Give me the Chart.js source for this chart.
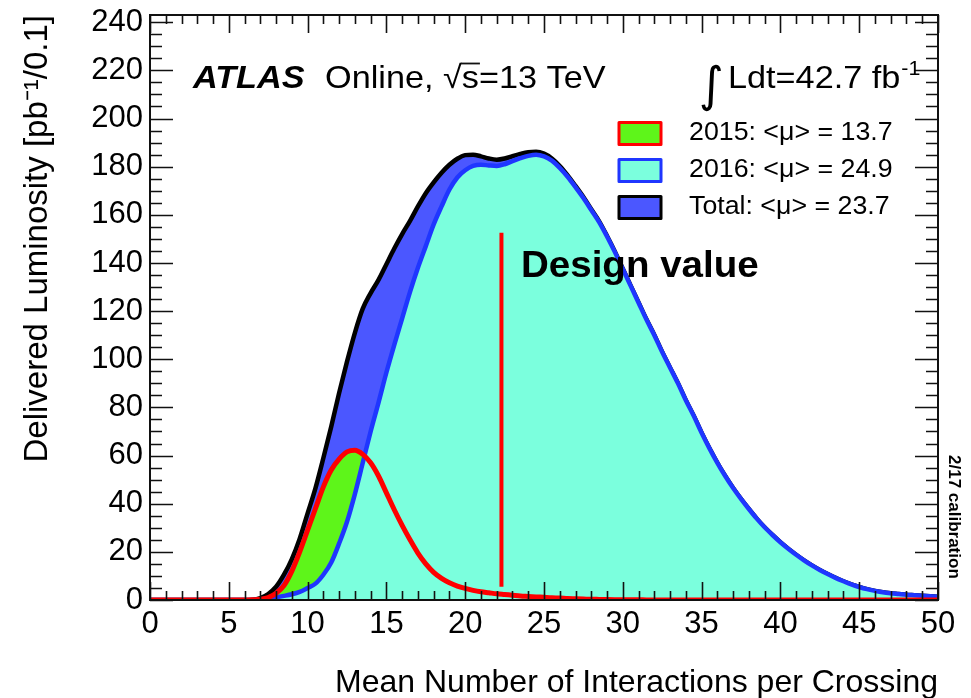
<!DOCTYPE html>
<html>
<head>
<meta charset="utf-8">
<title>Delivered Luminosity vs Mean Number of Interactions per Crossing</title>
<script src="https://cdn.jsdelivr.net/npm/chart.js@4.4.1/dist/chart.umd.min.js"></script>
<style>
  html, body { margin: 0; padding: 0; background: #ffffff; }
  #wrap { position: relative; width: 971px; height: 698px; }
</style>
</head>
<body>
<div id="wrap"><canvas id="lumi" width="971" height="698"></canvas></div>
<script>
// Mean number of interactions per crossing (x positions of the sampled distribution)
const mu = [0, 2, 4, 6, 6.5, 7, 7.5, 8, 8.5, 9, 9.5, 10, 10.5, 11, 11.5, 12, 12.5, 13, 13.5, 14,
  14.5, 15, 15.5, 16, 16.5, 17, 17.5, 18, 18.5, 19, 19.5, 20, 20.5, 21, 21.5, 22, 22.5, 23, 23.5, 24,
  24.5, 25, 25.5, 26, 26.5, 27, 27.5, 28, 28.5, 29, 29.5, 30, 30.5, 31, 31.5, 32, 32.5, 33, 33.5, 34,
  34.5, 35, 35.5, 36, 36.5, 37, 37.5, 38, 38.5, 39, 39.5, 40, 40.5, 41, 41.5, 42, 42.5, 43, 43.5, 44,
  44.5, 45, 45.5, 46, 46.5, 47, 47.5, 48, 48.5, 49, 49.5, 50];

// Delivered luminosity [pb^-1 / 0.1], 2015 data
const lumi2015 = [0, 0, 0, 0, 0.1, 0.3, 1, 2.8, 6, 12, 20, 29, 38, 47, 54, 58.5, 61.5, 62.2, 60.5, 57,
  51.5, 44.5, 37.5, 31, 25, 19.5, 15, 11.5, 9, 7.2, 5.8, 4.8, 4, 3.4, 3, 2.6, 2.3, 2, 1.7, 1.5,
  1.3, 1.1, 0.9, 0.8, 0.6, 0.5, 0.4, 0.3, 0.25, 0.2, 0.15, 0.1, 0.1, 0.1, 0.05, 0.05, 0, 0, 0, 0,
  0, 0, 0, 0, 0, 0, 0, 0, 0, 0, 0, 0, 0, 0, 0, 0, 0, 0, 0, 0,
  0, 0, 0, 0, 0, 0, 0, 0, 0, 0, 0, 0];

// Delivered luminosity [pb^-1 / 0.1], 2016 data
const lumi2016 = [0, 0, 0, 0, 0, 0.2, 0.6, 1.1, 1.7, 2.4, 3.4, 5, 6.8, 10.5, 15.6, 23.5, 32.5, 44, 57, 70,
  82, 94.5, 106, 117, 128, 138, 147, 156, 163.5, 170.5, 175.5, 178.5, 180.3, 180.8, 180.5, 180.3, 181, 182.3, 183.5, 184.5,
  185, 184.3, 182.5, 179.5, 175.8, 171.5, 167, 162, 157, 151, 144.5, 137.5, 130.5, 123.5, 116.5, 110, 103, 96.5, 90, 83,
  76.5, 69.5, 63, 57, 51.5, 46.5, 42, 37.8, 33.8, 30.2, 27, 24, 21.3, 18.8, 16.5, 14.4, 12.5, 10.8, 9.2, 7.8,
  6.5, 5.4, 4.5, 3.8, 3.2, 2.8, 2.5, 2.2, 2, 1.8, 1.6, 1.4];

// Delivered luminosity [pb^-1 / 0.1], 2015 + 2016
const lumiTotal = [0, 0, 0, 0, 0.1, 0.8, 2.5, 5.5, 10.5, 17, 25.5, 36, 46.5, 59, 72, 86, 99, 111, 121, 127.5,
  133, 139.5, 146, 152, 157.5, 163.5, 169, 173.5, 177.5, 180.8, 183.3, 184.8, 185, 184.3, 183.4, 182.9, 183.4, 184.4, 185.3, 186,
  186.2, 185.4, 183.4, 180.3, 176.4, 172, 167.4, 162.3, 157.3, 151.2, 144.7, 137.6, 130.6, 123.6, 116.6, 110.1, 103, 96.5, 90, 83,
  76.5, 69.5, 63, 57, 51.5, 46.5, 42, 37.8, 33.8, 30.2, 27, 24, 21.3, 18.8, 16.5, 14.4, 12.5, 10.8, 9.2, 7.8,
  6.5, 5.4, 4.5, 3.8, 3.2, 2.8, 2.5, 2.2, 2, 1.8, 1.6, 1.4];

// Design pile-up marker: position and vertical extent
const designMu = [22.3, 22.3];
const designLumi = [5.5, 152.5];

// Legend entries
const legendLabels = ['2015: <\u03bc> = 13.7', '2016: <\u03bc> = 24.9', 'Total: <\u03bc> = 23.7'];
const legendFills = ['#5ef51a', '#7bffdd', '#4b57ff'];
const legendEdges = ['#ff0000', '#1f36ff', '#000000'];

const FONT = '"Liberation Sans", Arial, Helvetica, sans-serif';
const TEXT_STRETCH = 1.07;

const toPoints = (xs, ys) => xs.map((x, i) => ({ x: x, y: ys[i] }));

// Draws text slightly widened; returns the drawn width
function wideText(ctx, str, x, y) {
  ctx.save();
  ctx.translate(x, y);
  ctx.scale(TEXT_STRETCH, 1);
  ctx.fillText(str, 0, 0);
  ctx.restore();
  return ctx.measureText(str).width * TEXT_STRETCH;
}

// Frame, inward ticks on all four sides and the text annotations
const atlasDecorations = {
  id: 'atlasDecorations',
  afterDatasetsDraw(chart) {
    const { ctx, chartArea: a, scales } = chart;
    const xs = scales.x, ys = scales.y;
    ctx.save();
    ctx.strokeStyle = '#111111';
    ctx.lineWidth = 1.6;
    ctx.beginPath();
    for (let v = 0; v <= 50; v += 1) {
      const px = Math.round(xs.getPixelForValue(v)) + 0.5;
      const len = v % 5 === 0 ? 18 : 9;
      ctx.moveTo(px, a.bottom); ctx.lineTo(px, a.bottom - len);
      ctx.moveTo(px, a.top); ctx.lineTo(px, a.top + len);
    }
    for (let v = 0; v <= 240; v += 5) {
      const py = Math.round(ys.getPixelForValue(v)) + 0.5;
      const len = v % 20 === 0 ? 23 : 12;
      ctx.moveTo(a.left, py); ctx.lineTo(a.left + len, py);
      ctx.moveTo(a.right, py); ctx.lineTo(a.right - len, py);
    }
    ctx.stroke();
    ctx.lineWidth = 2;
    ctx.strokeRect(a.left, a.top, a.right - a.left, a.bottom - a.top);

    ctx.fillStyle = '#000000';
    ctx.textBaseline = 'alphabetic';
    ctx.textAlign = 'left';

    // ATLAS  Online, sqrt(s)=13 TeV
    ctx.font = 'italic bold 32px ' + FONT;
    wideText(ctx, 'ATLAS', 193, 88);
    ctx.font = '32px ' + FONT;
    let tx = 325;
    tx += wideText(ctx, 'Online, ', tx, 88);
    tx += wideText(ctx, '\u221a', tx, 88);
    const sw = wideText(ctx, 's', tx, 88);
    ctx.lineWidth = 1.8;
    ctx.beginPath();
    ctx.moveTo(tx - 1, 63.5); ctx.lineTo(tx + sw + 1, 63.5);
    ctx.stroke();
    tx += sw;
    wideText(ctx, '=13 TeV', tx, 88);

    // Integrated luminosity
    ctx.font = '48px "DejaVu Sans", ' + FONT;
    ctx.fillText('\u222b', 699, 101);
    ctx.font = '32px ' + FONT;
    const lw = wideText(ctx, 'Ldt=42.7 fb', 728, 88);
    ctx.font = '20px ' + FONT;
    wideText(ctx, '-1', 728 + lw + 1, 75);

    // Legend
    ctx.lineJoin = 'round';
    ctx.lineWidth = 3;
    ctx.font = '25px ' + FONT;
    ctx.textBaseline = 'middle';
    const rowY = [133.5, 170.5, 207.5];
    legendLabels.forEach((label, i) => {
      ctx.fillStyle = legendFills[i];
      ctx.fillRect(619, rowY[i] - 11, 42, 22);
      ctx.strokeStyle = legendEdges[i];
      ctx.strokeRect(619, rowY[i] - 11, 42, 22);
      ctx.fillStyle = '#000000';
      wideText(ctx, label, 689, rowY[i]);
    });

    // Design value label
    ctx.textBaseline = 'alphabetic';
    ctx.font = 'bold 36px ' + FONT;
    wideText(ctx, 'Design value', 521, 277);

    // Calibration tag on the right margin
    ctx.save();
    ctx.translate(954, 455);
    ctx.rotate(Math.PI / 2);
    ctx.font = 'bold 17px ' + FONT;
    ctx.textBaseline = 'middle';
    ctx.fillText('2/17 calibration', 0, 0);
    ctx.restore();

    ctx.restore();
  }
};

new Chart(document.getElementById('lumi'), {
  type: 'line',
  data: {
    datasets: [
      {
        label: 'Design value',
        data: toPoints(designMu, designLumi),
        borderColor: '#ff0000', borderWidth: 4, pointRadius: 0, fill: false
      },
      {
        label: '2015 outline',
        data: toPoints(mu, lumi2015),
        borderColor: '#ff0000', borderWidth: 5, pointRadius: 0, fill: false,
        cubicInterpolationMode: 'monotone'
      },
      {
        label: '2016',
        data: toPoints(mu, lumi2016),
        borderColor: '#1f36ff', backgroundColor: '#7bffdd', borderWidth: 4.5, pointRadius: 0,
        fill: 'origin', cubicInterpolationMode: 'monotone'
      },
      {
        label: '2015',
        data: toPoints(mu, lumi2015),
        borderWidth: 0, borderColor: 'rgba(0,0,0,0)', backgroundColor: '#5ef51a', pointRadius: 0,
        fill: 'origin', cubicInterpolationMode: 'monotone'
      },
      {
        label: 'Total',
        data: toPoints(mu, lumiTotal),
        borderColor: '#000000', backgroundColor: '#4b57ff', borderWidth: 4.5, pointRadius: 0,
        fill: 'origin', cubicInterpolationMode: 'monotone'
      }
    ]
  },
  options: {
    responsive: false,
    animation: false,
    devicePixelRatio: 1,
    layout: { padding: { top: 15, right: 33, bottom: 0, left: 0 } },
    plugins: { legend: { display: false }, tooltip: { enabled: false } },
    scales: {
      x: {
        type: 'linear', min: 0, max: 50,
        grid: { display: false, drawTicks: false },
        border: { display: false },
        ticks: { stepSize: 5, color: '#000000', padding: 6, maxRotation: 0,
                 font: { family: FONT, size: 31 } },
        title: { display: true, text: 'Mean Number of Interactions per Crossing', align: 'end',
                 color: '#000000', padding: 0, font: { family: FONT, size: 32, lineHeight: 0.95 } },
        afterFit(scale) { scale.height = 98; scale.paddingLeft = 0; scale.paddingRight = 0; }
      },
      y: {
        type: 'linear', min: 0, max: 243,
        grid: { display: false, drawTicks: false },
        border: { display: false },
        ticks: { stepSize: 20, includeBounds: false, color: '#000000', padding: 7,
                 font: { family: FONT, size: 31 } },
        afterBuildTicks(scale) { scale.ticks = scale.ticks.filter(t => t.value % 20 === 0); },
        title: { display: true, text: 'Delivered Luminosity [pb\u207b\u00b9/0.1]', align: 'end',
                 color: '#000000', padding: { top: 18, bottom: 0 }, font: { family: FONT, size: 33 } },
        afterFit(scale) { scale.width = 150; scale.paddingTop = 0; scale.paddingBottom = 0; }
      }
    }
  },
  plugins: [atlasDecorations]
});
</script>
</body>
</html>
